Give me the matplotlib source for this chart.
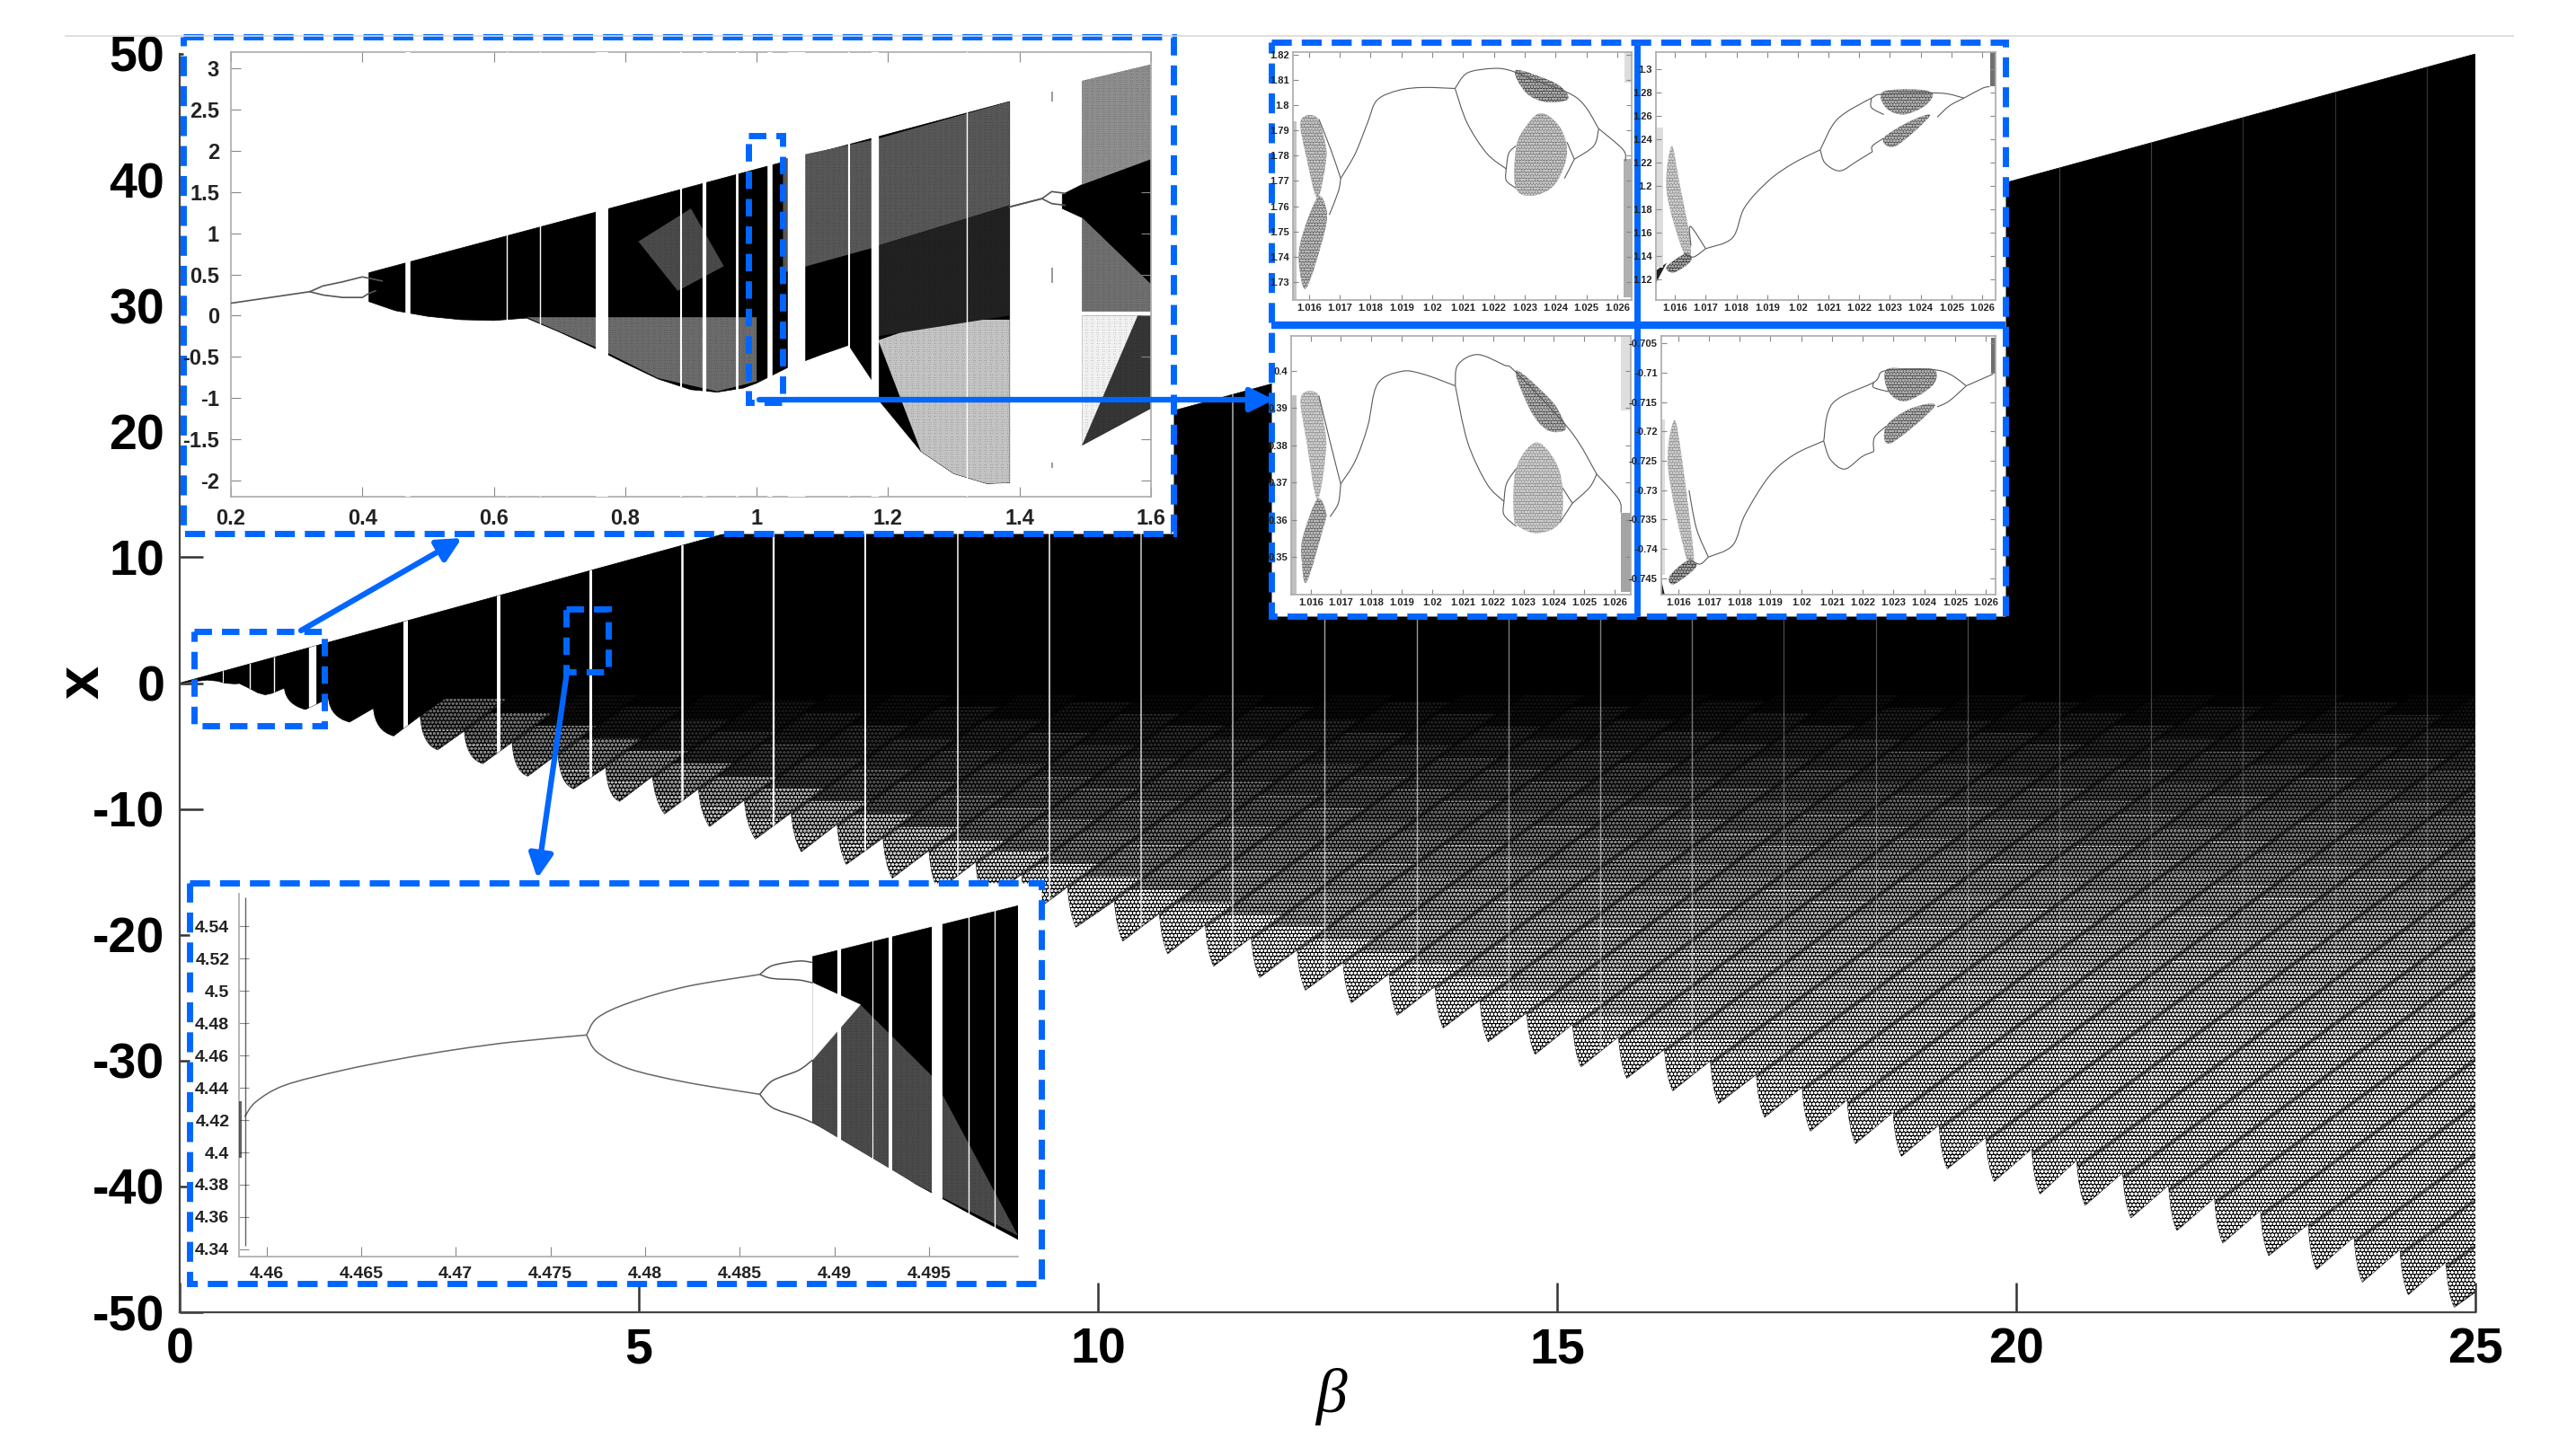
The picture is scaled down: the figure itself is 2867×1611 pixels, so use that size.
import numpy as np
import matplotlib
matplotlib.use('Agg')
import matplotlib.pyplot as plt
from matplotlib.patches import Polygon, Rectangle, PathPatch
from matplotlib.path import Path

W, H = 2867, 1611
BLUE = '#0066ff'
FONT = ['Liberation Sans Narrow', 'Liberation Sans', 'DejaVu Sans']

plt.rcParams['hatch.linewidth'] = 1.0
plt.rcParams['lines.scale_dashes'] = False
plt.rcParams['font.family'] = FONT
plt.rcParams['axes.unicode_minus'] = False

### main diagram, values
upper_beta = [0, 25]
upper_x = [0, 50]
start_beta = [0, 0.3, 0.41, 0.5, 0.6, 0.65, 0.76, 0.85, 0.93, 1.0]
start_x = [0, 0.24, 0.16, -0.01, -0.06, -0.03, -0.42, -0.77, -0.93, -0.82]
tip_beta = [1.37, 1.85, 2.33, 2.81, 3.30, 3.79, 4.29, 4.79, 5.28, 5.77, 6.27, 6.77, 7.26, 7.76, 8.26, 8.76,
            9.26, 9.76, 10.27, 10.76, 11.26, 11.76, 12.26, 12.76, 13.26, 13.76, 14.25, 14.76, 15.26, 15.76,
            16.26, 16.76, 17.26, 17.76, 18.25, 18.75, 19.25, 19.76, 20.26, 20.75, 21.25, 21.75, 22.25, 22.75,
            23.27, 23.77, 24.27, 24.77]
tip_x = [-2.1, -3.1, -4.2, -5.3, -6.4, -7.4, -8.4, -9.4, -10.4, -11.4, -12.4, -13.4, -14.4, -15.5, -16.5, -17.4,
         -18.4, -19.4, -20.5, -21.5, -22.5, -23.4, -24.4, -25.4, -26.4, -27.4, -28.5, -29.5, -30.5, -31.4,
         -32.4, -33.4, -34.5, -35.6, -36.6, -37.6, -38.6, -39.6, -40.6, -41.5, -42.5, -43.5, -44.5, -45.5,
         -46.6, -47.6, -48.6, -49.6]
notch_beta = [1.14, 1.62, 2.11, 2.62, 3.1, 3.62, 4.12, 4.64, 5.15, 5.65, 6.15, 6.66, 7.16, 7.66, 8.16, 8.67,
              9.17, 9.67, 10.18, 10.67, 11.17, 11.67, 12.17, 12.67, 13.17, 13.67, 14.16, 14.67, 15.17, 15.67,
              16.17, 16.67, 17.17, 17.67, 18.16, 18.66, 19.16, 19.67, 20.17, 20.66, 21.16, 21.66, 22.16, 22.66,
              23.18, 23.68, 24.18, 24.68]
notch_x = [-0.4, -1.2, -2.0, -2.6, -3.8, -4.7, -5.6, -6.7, -7.4, -8.4, -9.3, -10.3, -11.2, -12.3, -13.3, -14.2,
           -15.2, -16.2, -17.3, -18.3, -19.2, -20.2, -21.2, -22.2, -23.1, -24.1, -25.2, -26.2, -27.1, -28.1,
           -29.1, -30.0, -31.1, -32.1, -33.1, -34.1, -35.1, -36.1, -37.0, -37.9, -38.9, -39.9, -40.9, -41.9,
           -43.0, -44.0, -45.0, -46.0]
end_beta = 25
end_x = -48.4
band_slope = 5.3

window_beta = [0.47, 0.76, 1.03, 1.45, 2.46, 3.47, 4.47, 5.47, 6.47, 7.47, 8.47, 9.47, 10.47, 11.47, 12.47, 13.47,
               14.47, 15.47, 16.47, 17.47, 18.47, 19.47, 20.47, 21.47, 22.47, 23.47, 24.47]
window_lw = [0.8, 1.0, 1.0, 6, 3.6, 2.8, 2.2, 1.8, 1.6, 1.4, 1.2, 1.2, 1.1, 1.1, 1.0, 1.0,
             1.0, 1.0, 1.0, 0.9, 0.9, 0.9, 0.9, 0.9, 0.9, 0.9, 0.9]
window_alpha = [1, 1, 1, 1, 1, 1, 1, 1, 1, 1, 0.9, 0.9, 0.8, 0.7, 0.65, 0.6,
                0.5, 0.5, 0.45, 0.3, 0.3, 0.3, 0.25, 0.25, 0.2, 0.2, 0.2]

# how strongly the white grain shows at a given depth (style, read by eye)
grain_depth = [-50, -42, -30, -20, -14, -8, -3, -1]
grain_alpha = [1.0, 1.0, 0.92, 0.72, 0.52, 0.28, 0.1, 0.0]

xticks_main = [0, 5, 10, 15, 20, 25]
yticks_main = [-50, -40, -30, -20, -10, 0, 10, 20, 30, 40, 50]

### first inset, beta 0.2 to 1.6
a_env_top_beta = [0.41, 1.385]
a_env_top = [0.52, 2.6]
a_env_low_beta = [0.41, 0.45, 0.5, 0.55, 0.6, 0.65, 0.7, 0.76, 0.8, 0.85, 0.9, 0.94, 0.98, 1.0, 1.05, 1.1, 1.14,
                  1.175, 1.185, 1.25, 1.3, 1.35, 1.385]
a_env_low = [0.17, 0.06, -0.01, -0.05, -0.06, -0.03, -0.2, -0.42, -0.58, -0.77, -0.9, -0.93, -0.88, -0.82, -0.62,
             -0.47, -0.36, -0.78, -1.02, -1.65, -1.92, -2.04, -2.03]
a_right_beta = [1.465, 1.495, 1.6, 1.6, 1.495, 1.465]
a_right_x = [1.47, 1.59, 1.9, 0.38, 1.19, 1.30]
a_topgray_beta = [1.495, 1.6, 1.6, 1.495]
a_topgray_x = [2.85, 3.05, 1.9, 1.59]
a_midgray_beta = [1.495, 1.6, 1.6, 1.495]
a_midgray_x = [1.19, 0.38, 0.05, 0.05]
a_lowgray_beta = [1.495, 1.58, 1.495]
a_lowgray_x = [0.0, 0.0, -1.58]
a_wedge_beta = [1.495, 1.6, 1.6, 1.58]
a_wedge_x = [-1.58, -1.13, 0.0, 0.0]
a_gray1_beta = [0.65, 1.0, 1.0, 0.94, 0.85, 0.76]
a_gray1_x = [-0.02, -0.02, -0.8, -0.92, -0.76, -0.4]
a_gray2_beta = [1.185, 1.25, 1.3, 1.385, 1.385, 1.35, 1.3, 1.25]
a_gray2_x = [-0.3, -0.12, -0.05, -0.05, -2.03, -2.04, -1.92, -1.65]
a_gray3_beta = [1.185, 1.385, 1.385, 1.185]
a_gray3_x = [2.15, 2.6, 1.34, 0.85]
a_gray4_beta = [1.04, 1.18, 1.18, 1.04]
a_gray4_x = [1.9, 2.14, 0.83, 0.52]
a_gray5_beta = [0.82, 0.9, 0.95, 0.88]
a_gray5_x = [0.9, 1.3, 0.6, 0.3]
a_gray6_beta = [1.185, 1.385, 1.385, 1.185]
a_gray6_x = [0.85, 1.34, 0.0, -0.25]
a_trunk_beta = [0.2, 0.32, 0.34, 0.37, 0.4, 0.43]
a_trunk_x = [0.15, 0.29, 0.36, 0.41, 0.47, 0.42]
a_fork_beta = [0.32, 0.34, 0.37, 0.4, 0.41, 0.42]
a_fork_x = [0.29, 0.25, 0.22, 0.22, 0.27, 0.3]
a_p3_beta = [1.385, 1.434, 1.449, 1.469]
a_p3_up = [1.32, 1.42, 1.506, 1.485]
a_p3_low = [1.32, 1.42, 1.36, 1.34]
a_gaps = [0.47, 0.62, 0.67, 0.765, 0.885, 0.92, 0.97, 1.02, 1.06, 1.14, 1.18, 1.32]
a_gap_w = [4, 1, 1, 10, 1.5, 3, 2, 4, 14, 1.5, 6, 1]
a_marks = [1.45, 1.45, 1.45]
a_marks_low = [2.6, 0.4, -1.85]
a_marks_high = [2.72, 0.58, -1.78]
a_xticks = [0.2, 0.4, 0.6, 0.8, 1, 1.2, 1.4, 1.6]
a_xlabels = ['0.2', '0.4', '0.6', '0.8', '1', '1.2', '1.4', '1.6']
a_yticks = [-2, -1.5, -1, -0.5, 0, 0.5, 1, 1.5, 2, 2.5, 3]
a_ylabels = ['-2', '-1.5', '-1', '-0.5', '0', '0.5', '1', '1.5', '2', '2.5', '3']

### bottom inset, beta 4.46 to 4.5
e_trunk_beta = [4.45885, 4.45945, 4.46097, 4.464, 4.46703, 4.47006, 4.47309, 4.47691]
e_trunk_x = [4.4221, 4.4314, 4.4416, 4.4508, 4.4579, 4.4638, 4.4685, 4.4727]
e_fork_beta = [4.47691, 4.47748, 4.47915, 4.48218, 4.48606]
e_fork_up = [4.4727, 4.4833, 4.4926, 4.5027, 4.5102]
e_fork_low = [4.4727, 4.462, 4.4518, 4.4434, 4.436]
e_sub_beta = [4.48606, 4.48673, 4.4881, 4.48885]
e_sub_a = [4.5102, 4.5157, 4.5185, 4.5176]
e_sub_b = [4.5102, 4.5077, 4.5068, 4.505]
e_sub_c = [4.436, 4.4444, 4.4508, 4.4573]
e_sub_d = [4.436, 4.4277, 4.4221, 4.4184]
e_black_beta = [4.48885, 4.4997, 4.4997, 4.49733, 4.4943, 4.49127, 4.48885]
e_black_x = [4.5213, 4.5528, 4.3461, 4.3609, 4.3804, 4.4036, 4.4184]
e_wedge_beta = [4.48885, 4.48885, 4.49137]
e_wedge_x = [4.505, 4.4573, 4.4915]
e_gray_beta = [4.49137, 4.49521, 4.4997, 4.4943, 4.48885, 4.48885]
e_gray_x = [4.4915, 4.4467, 4.3485, 4.3804, 4.4184, 4.4573]
e_gaps = [4.49027, 4.49294, 4.49545, 4.49203, 4.49709, 4.49848]
e_gap_w = [3, 2.8, 8.5, 0.8, 1, 1]
e_strip_beta = [4.4586, 4.4589]
e_strip_low = [4.3965, 4.342]
e_strip_high = [4.4315, 4.558]
e_xticks = [4.46, 4.465, 4.47, 4.475, 4.48, 4.485, 4.49, 4.495]
e_xlabels = ['4.46', '4.465', '4.47', '4.475', '4.48', '4.485', '4.49', '4.495']
e_yticks = [4.34, 4.36, 4.38, 4.4, 4.42, 4.44, 4.46, 4.48, 4.5, 4.52, 4.54]
e_ylabels = ['4.34', '4.36', '4.38', '4.4', '4.42', '4.44', '4.46', '4.48', '4.5', '4.52', '4.54']

### four small panels
p_xticks = [1.016, 1.017, 1.018, 1.019, 1.02, 1.021, 1.022, 1.023, 1.024, 1.025, 1.026]
p_xlabels = ['1.016', '1.017', '1.018', '1.019', '1.02', '1.021', '1.022', '1.023', '1.024', '1.025', '1.026']

pa_lines = [
    ([1.01703, 1.0175, 1.0179, 1.01821, 1.01892, 1.01971, 1.02074], [1.771, 1.7808, 1.793, 1.802, 1.8059, 1.807, 1.8066]),
    ([1.02074, 1.02113, 1.02192, 1.02248, 1.02319, 1.02469, 1.0254], [1.8066, 1.8127, 1.8145, 1.8139, 1.8105, 1.8029, 1.7907]),
    ([1.0254, 1.02524, 1.02461], [1.7907, 1.7839, 1.7786]),
    ([1.0254, 1.02619, 1.02627], [1.7907, 1.7824, 1.7778]),
    ([1.02074, 1.02113, 1.02177, 1.0224], [1.8066, 1.793, 1.7809, 1.7748]),
    ([1.01703, 1.01671, 1.01632], [1.771, 1.7824, 1.7945]),
    ([1.01703, 1.01695, 1.01666], [1.771, 1.7657, 1.7566]),
    ([1.0224, 1.0224, 1.02271], [1.7748, 1.7702, 1.7672]),
    ([1.0224, 1.02248, 1.02271], [1.7748, 1.7809, 1.7839]),
    ([1.02461, 1.02429], [1.7786, 1.771]),
    ([1.02461, 1.02437], [1.7786, 1.7854]),
]
pa_blobs = [
    ([1.02271, 1.02382, 1.02429, 1.02437, 1.02366, 1.02303], [1.8138, 1.8097, 1.8059, 1.8021, 1.8013, 1.8051], '#3c3c3c'),
    ([1.0235, 1.02295, 1.02271, 1.02271, 1.02327, 1.02398, 1.02437, 1.02413], [1.7968, 1.79, 1.7824, 1.7672, 1.7642, 1.7687, 1.7808, 1.7915], '#7a7a7a'),
    ([1.01573, 1.01624, 1.01652, 1.01655, 1.01627, 1.01592], [1.7937, 1.7953, 1.7854, 1.7778, 1.7634, 1.7793], '#777777'),
    ([1.01627, 1.01655, 1.01652, 1.01592, 1.01568, 1.01576], [1.7634, 1.7596, 1.7505, 1.7277, 1.7368, 1.7475], '#606060'),
]
pa_strips = [
    ([1.02622, 1.0265, 1.0265, 1.02622], [1.7786, 1.7786, 1.724, 1.724], '#b0b0b0'),
    ([1.02625, 1.0265, 1.0265, 1.02625], [1.821, 1.821, 1.809, 1.809], '#dddddd'),
    ([1.01548, 1.0156, 1.0156, 1.01548], [1.7937, 1.7937, 1.7232, 1.7232], '#c4c4c4'),
]

pb_lines = [
    ([1.017, 1.01787, 1.01827, 1.01906, 1.01986, 1.02073], [1.146, 1.1552, 1.1815, 1.2046, 1.2194, 1.2309]),
    ([1.02073, 1.02129, 1.0224, 1.0228, 1.02462, 1.02541], [1.2309, 1.2572, 1.2753, 1.2786, 1.2796, 1.2753]),
    ([1.02541, 1.02494, 1.02454], [1.2753, 1.2687, 1.2589]),
    ([1.02541, 1.026, 1.02625], [1.2753, 1.2836, 1.2852]),
    ([1.02073, 1.02089, 1.02137, 1.02192, 1.02243], [1.2309, 1.2194, 1.2128, 1.221, 1.2293]),
    ([1.017, 1.0165, 1.01652], [1.146, 1.1651, 1.1486]),
    ([1.017, 1.0166, 1.01629], [1.146, 1.1388, 1.1421]),
    ([1.0224, 1.0224, 1.0228], [1.2753, 1.2671, 1.2612]),
    ([1.02243, 1.02243, 1.02279], [1.2293, 1.2342, 1.2408]),
]
pb_blobs = [
    ([1.02275, 1.02367, 1.02438, 1.02414, 1.02343, 1.02287], [1.2803, 1.2829, 1.2796, 1.2687, 1.2612, 1.2671], '#474747'),
    ([1.02279, 1.02367, 1.0243, 1.02319], [1.2408, 1.2556, 1.2599, 1.2342], '#4a4a4a'),
    ([1.01589, 1.01613, 1.01652, 1.01629, 1.01573], [1.2342, 1.2046, 1.1486, 1.1421, 1.1947], '#8a8a8a'),
    ([1.01573, 1.01637, 1.01652, 1.01597], [1.1305, 1.1421, 1.1355, 1.1256], '#2c2c2c'),
]
pb_strips = [
    ([1.01538, 1.01573, 1.01538], [1.1272, 1.1338, 1.1164], '#222222'),
    ([1.02625, 1.02644, 1.02644, 1.02625], [1.3148, 1.3148, 1.2852, 1.2852], '#707070'),
    ([1.0154, 1.0156, 1.0156, 1.0154], [1.25, 1.25, 1.13, 1.13], '#dddddd'),
]

pc_lines = [
    ([1.01699, 1.01747, 1.01788, 1.0182, 1.019, 1.01972, 1.02076], [0.3696, 0.3758, 0.3851, 0.3964, 0.3998, 0.399, 0.3959]),
    ([1.02076, 1.02084, 1.02148, 1.02236, 1.02276, 1.02453, 1.02541], [0.3959, 0.4015, 0.4043, 0.4015, 0.3995, 0.384, 0.3722]),
    ([1.02541, 1.02517, 1.02461], [0.3722, 0.3686, 0.3644]),
    ([1.02541, 1.02613, 1.02621], [0.3722, 0.3655, 0.3619]),
    ([1.02076, 1.02116, 1.0218, 1.02236], [0.3959, 0.3809, 0.3696, 0.3649]),
    ([1.01699, 1.01667, 1.01627], [0.3696, 0.3799, 0.3933]),
    ([1.01699, 1.01691, 1.01664], [0.3696, 0.3644, 0.3608]),
    ([1.02236, 1.02236, 1.02276], [0.3649, 0.3613, 0.3582]),
    ([1.02236, 1.02244, 1.02276], [0.3649, 0.3696, 0.3737]),
    ([1.02461, 1.02428], [0.3644, 0.3686]),
    ([1.02461, 1.0242], [0.3644, 0.3593]),
]
pc_blobs = [
    ([1.02276, 1.02388, 1.02428, 1.02436, 1.0238, 1.02324], [0.4, 0.3923, 0.3871, 0.384, 0.384, 0.3892], '#4a4a4a'),
    ([1.0234, 1.02276, 1.02268, 1.02284, 1.02348, 1.0242, 1.02428, 1.02404], [0.3807, 0.3737, 0.3613, 0.3582, 0.3564, 0.3593, 0.3686, 0.3758], '#8a8a8a'),
    ([1.01568, 1.01622, 1.01643, 1.01651, 1.01622, 1.01587], [0.3928, 0.3938, 0.3861, 0.3789, 0.3655, 0.3809], '#8c8c8c'),
    ([1.01622, 1.01651, 1.01643, 1.01587, 1.01571, 1.01574], [0.3655, 0.3619, 0.3582, 0.3433, 0.349, 0.3552], '#5c5c5c'),
]
pc_strips = [
    ([1.02621, 1.02653, 1.02653, 1.02621], [0.3619, 0.3619, 0.3407, 0.3407], '#a4a4a4'),
    ([1.02621, 1.02653, 1.02653, 1.02621], [0.4093, 0.4093, 0.3892, 0.3892], '#dedede'),
    ([1.01536, 1.01555, 1.01555, 1.01536], [0.3933, 0.3933, 0.3399, 0.3399], '#c0c0c0'),
]

pd_lines = [
    ([1.01698, 1.01777, 1.01817, 1.01896, 1.01975, 1.02073], [-0.7414, -0.7394, -0.7342, -0.7276, -0.724, -0.7216]),
    ([1.02073, 1.02102, 1.02236, 1.02276, 1.0245, 1.02537], [-0.7216, -0.7152, -0.7116, -0.7096, -0.7096, -0.7122]),
    ([1.02537, 1.02481, 1.02442], [-0.7122, -0.7148, -0.7158]),
    ([1.02537, 1.02624], [-0.7122, -0.7102]),
    ([1.02073, 1.02094, 1.02141, 1.02197, 1.02236], [-0.7216, -0.7247, -0.7264, -0.7243, -0.7234]),
    ([1.01698, 1.01659, 1.01635], [-0.7414, -0.7365, -0.7300]),
    ([1.01698, 1.01670, 1.01635], [-0.7414, -0.7426, -0.7417]),
    ([1.02236, 1.02236, 1.02284], [-0.7116, -0.7125, -0.7132]),
    ([1.02236, 1.02238, 1.02276], [-0.7234, -0.7210, -0.7191]),
]
pd_blobs = [
    ([1.02276, 1.02355, 1.02434, 1.02426, 1.02339, 1.02284], [-0.7095, -0.7093, -0.7095, -0.7122, -0.7148, -0.7132], '#474747'),
    ([1.02276, 1.02355, 1.02434, 1.02291], [-0.7191, -0.7161, -0.7157, -0.722], '#4a4a4a'),
    ([1.01587, 1.01611, 1.01651, 1.01627, 1.01567], [-0.7181, -0.7243, -0.7417, -0.7417, -0.7263], '#8a8a8a'),
    ([1.01572, 1.01627, 1.01659, 1.01587], [-0.7447, -0.7421, -0.743, -0.746], '#2c2c2c'),
]
pd_strips = [
    ([1.01545, 1.01556, 1.01545], [-0.7453, -0.7478, -0.7478], '#222222'),
    ([1.02616, 1.02632, 1.02632, 1.02616], [-0.704, -0.704, -0.7102, -0.7102], '#707070'),
    ([1.01547, 1.01557, 1.01557, 1.01547], [-0.718, -0.718, -0.7445, -0.7445], '#dddddd'),
]

pa_yticks = [1.73, 1.74, 1.75, 1.76, 1.77, 1.78, 1.79, 1.8, 1.81, 1.82]
pa_ylabels = ['1.73', '1.74', '1.75', '1.76', '1.77', '1.78', '1.79', '1.8', '1.81', '1.82']
pb_yticks = [1.12, 1.14, 1.16, 1.18, 1.2, 1.22, 1.24, 1.26, 1.28, 1.3]
pb_ylabels = ['1.12', '1.14', '1.16', '1.18', '1.2', '1.22', '1.24', '1.26', '1.28', '1.3']
pc_yticks = [0.35, 0.36, 0.37, 0.38, 0.39, 0.4]
pc_ylabels = ['0.35', '0.36', '0.37', '0.38', '0.39', '0.4']
pd_yticks = [-0.745, -0.74, -0.735, -0.73, -0.725, -0.72, -0.715, -0.71, -0.705]
pd_ylabels = ['-0.745', '-0.74', '-0.735', '-0.73', '-0.725', '-0.72', '-0.715', '-0.71', '-0.705']


def pix_axes(left, top, right, bottom, z):
    return fig.add_axes([left / W, 1 - bottom / H, (right - left) / W, (bottom - top) / H], zorder=z)


def shade(ax, xs, ys, white):
    # black patch with a fine white grain, white = share of white wanted
    ax.add_patch(Polygon(list(zip(xs, ys)), facecolor='black', edgecolor=(1, 1, 1, min(white / 0.76, 1)),
                         linewidth=0, hatch='ooooooo', zorder=1.5))


def catmull(xs, ys, closed=False):
    # bezier through the read points, so the curves do not look like polygons
    p = np.column_stack([xs, ys]).astype(float)
    n = len(p)
    verts = [p[0]]
    codes = [Path.MOVETO]
    last = n if closed else n - 1
    for i in range(last):
        if closed:
            p0, p1, p2, p3 = p[(i - 1) % n], p[i], p[(i + 1) % n], p[(i + 2) % n]
        else:
            p0, p1, p2, p3 = p[max(i - 1, 0)], p[i], p[i + 1], p[min(i + 2, n - 1)]
        verts += [p1 + (p2 - p0) / 6, p2 - (p3 - p1) / 6, p2]
        codes += [Path.CURVE4, Path.CURVE4, Path.CURVE4]
    return Path(verts, codes)


def curve(ax, xs, ys, color='#666666', lw=1.0, z=3):
    ax.add_patch(PathPatch(catmull(xs, ys), facecolor='none', edgecolor=color, lw=lw, zorder=z))


def blob(ax, xs, ys, color):
    ax.add_patch(PathPatch(catmull(xs, ys, closed=True), facecolor=color, edgecolor=(1, 1, 1, 0.55), linewidth=0,
                           hatch='ooooo', zorder=1.5))


def inset_style(ax, xlim, ylim, xticks, xlabels, yticks, ylabels, size, ticklen):
    ax.set_xlim(xlim)
    ax.set_ylim(ylim)
    ax.set_xticks(xticks)
    ax.set_xticklabels(xlabels)
    ax.set_yticks(yticks)
    ax.set_yticklabels(ylabels)
    ax.tick_params(direction='in', top=True, right=True, length=ticklen, width=0.8, color='#888888',
                   labelsize=size, labelcolor='#222222', pad=size * 0.55)
    for t in ax.get_xticklabels() + ax.get_yticklabels():
        t.set_fontweight('bold')
    for s in ax.spines.values():
        s.set_color('#aaaaaa')
        s.set_linewidth(1.2)


fig = plt.figure(figsize=(W / 100, H / 100), dpi=100, facecolor='white')

""" Main diagram """
ax = pix_axes(200, 60, 2755, 1461, 1)
ax.set_xlim(0, 25)
ax.set_ylim(-50, 50)

verts = [(upper_beta[0], upper_x[0]), (upper_beta[1], upper_x[1]), (end_beta, end_x), (tip_beta[-1], tip_x[-1])]
codes = [Path.MOVETO, Path.LINETO, Path.LINETO, Path.LINETO]
for i in range(len(tip_beta) - 1, -1, -1):
    # walking leftwards: tip, curved side up to the notch, straight edge down to the tip before
    lift = 0.4 if i < 8 else 1.1
    verts += [(notch_beta[i] + 0.02, tip_x[i] + lift), (notch_beta[i], notch_x[i])]
    codes += [Path.CURVE3, Path.CURVE3]
    if i > 0:
        verts.append((tip_beta[i - 1], tip_x[i - 1]))
        codes.append(Path.LINETO)
for b, v in zip(start_beta[::-1], start_x[::-1]):
    verts.append((b, v))
    codes.append(Path.LINETO)
verts.append((0, 0))
codes.append(Path.CLOSEPOLY)
body = PathPatch(Path(verts, codes), facecolor='black', edgecolor='black', linewidth=0.5, zorder=1)
ax.add_patch(body)

# every tooth drags a speckled band up to the right, lighter the deeper it is
step = 2.5
for i in range(1, len(tip_beta)):
    tb, tx = tip_beta[i], tip_x[i]
    pb, px = tip_beta[i - 1], tip_x[i - 1]
    if tx > -5:
        continue
    lo = tx - 1
    while lo < -1:
        hi = min(lo + step, -1)
        mid = (lo + hi) / 2
        al = float(np.interp(mid, grain_depth, grain_alpha))
        # a bit paler right above the tip
        if mid < tx + 4:
            al = min(al + 0.3, 1)
        poly = [(tb + (lo - tx) / band_slope, lo), (tb + (hi - tx) / band_slope, hi),
                (pb + (hi - px) / band_slope, hi), (pb + (lo - px) / band_slope, lo)]
        r = Polygon(poly, facecolor='none', edgecolor=(1, 1, 1, al), linewidth=0, hatch='oooo', zorder=2)
        ax.add_patch(r)
        r.set_clip_path(body)
        lo = hi
    stop = -1.0
    bb = tb + (stop - tx) / band_slope
    l1, = ax.plot([tb, bb], [tx, stop], color='black', lw=3.0, alpha=0.4, zorder=3, solid_capstyle='butt')
    l1.set_clip_path(body)

for b, w, al in zip(window_beta, window_lw, window_alpha):
    ln = ax.axvline(b, color='white', lw=w, alpha=al, zorder=4)
    ln.set_clip_path(body)

ax.set_xticks(xticks_main)
ax.set_yticks(yticks_main)
ax.tick_params(axis='x', direction='in', length=24, width=1.8, color='#333333', labelsize=40, pad=12)
ax.tick_params(axis='y', direction='in', length=19, width=1.8, color='#333333', labelsize=40, pad=12)
for t in ax.get_xticklabels() + ax.get_yticklabels():
    t.set_fontweight('bold')
ax.spines['top'].set_visible(False)
ax.spines['right'].set_visible(False)
ax.spines['left'].set_linewidth(1.6)
ax.spines['bottom'].set_linewidth(1.6)
ax.spines['left'].set_color('#444444')
ax.spines['bottom'].set_color('#444444')
fig.text(93 / W, 1 - 760 / H, 'x', fontsize=48, fontweight='bold', rotation=90, ha='center', va='center')
fig.text(1481 / W, 1 - 1555 / H, 'β', fontsize=50, family=['Liberation Serif', 'DejaVu Serif'], style='italic', ha='center', va='center')

""" White boxes under the insets """
under = fig.add_axes([0, 0, 1, 1], zorder=2)
under.set_xlim(0, W)
under.set_ylim(H, 0)
under.axis('off')
under.patch.set_alpha(0)
under.plot([73, 2797], [40, 40], color='#d8d8d8', lw=1.2)
dash = (0, (16, 8))
for (l, t, r, b) in [(204, 41, 1306, 594), (1415, 47, 2232, 686), (211, 983, 1159, 1429)]:
    under.add_patch(Rectangle((l, t), r - l, b - t, facecolor='white', edgecolor=BLUE, lw=5, linestyle=dash))
under.plot([1415, 2232], [362, 362], color=BLUE, lw=6, solid_capstyle='butt')
under.plot([1822, 1822], [47, 686], color=BLUE, lw=5, solid_capstyle='butt')

""" First inset """
ia = pix_axes(257, 58, 1281, 553, 3)
ia.add_patch(Polygon(list(zip(a_env_top_beta + a_env_low_beta[::-1], a_env_top + a_env_low[::-1])), facecolor='black', edgecolor='black', lw=0.5, zorder=1))
ia.add_patch(Polygon(list(zip(a_right_beta, a_right_x)), facecolor='black', edgecolor='black', lw=0.5, zorder=1))
shade(ia, a_topgray_beta, a_topgray_x, 0.42)
shade(ia, a_midgray_beta, a_midgray_x, 0.33)
shade(ia, a_lowgray_beta, a_lowgray_x, 0.72)
shade(ia, a_wedge_beta, a_wedge_x, 0.16)
shade(ia, a_gray1_beta, a_gray1_x, 0.32)
shade(ia, a_gray2_beta, a_gray2_x, 0.58)
shade(ia, a_gray3_beta, a_gray3_x, 0.26)
shade(ia, a_gray4_beta, a_gray4_x, 0.26)
shade(ia, a_gray5_beta, a_gray5_x, 0.22)
shade(ia, a_gray6_beta, a_gray6_x, 0.1)
ia.plot(a_trunk_beta, a_trunk_x, color='#555555', lw=1.2, zorder=3)
ia.plot(a_fork_beta, a_fork_x, color='#555555', lw=1.2, zorder=3)
ia.plot(a_p3_beta, a_p3_up, color='#555555', lw=1.2, zorder=3)
ia.plot(a_p3_beta, a_p3_low, color='#555555', lw=1.2, zorder=3)
for b, w in zip(a_gaps, a_gap_w):
    ia.axvline(b, color='white', lw=w, zorder=4)
ia.vlines(a_marks, a_marks_low, a_marks_high, color='#888888', lw=1.2, zorder=5)
inset_style(ia, (0.2, 1.6), (-2.2, 3.2), a_xticks, a_xlabels, a_yticks, a_ylabels, 17, 8)

""" Bottom inset """
ie = pix_axes(266, 995, 1133, 1399, 3)
ie.add_patch(Polygon(list(zip(e_black_beta, e_black_x)), facecolor='black', edgecolor='black', lw=0.4, zorder=1))
shade(ie, e_gray_beta, e_gray_x, 0.22)
ie.add_patch(Polygon(list(zip(e_wedge_beta, e_wedge_x)), facecolor='white', edgecolor='white', lw=0.4, zorder=2))
curve(ie, e_trunk_beta, e_trunk_x, '#666666', 1.1)
curve(ie, e_fork_beta, e_fork_up, '#666666', 1.1)
curve(ie, e_fork_beta, e_fork_low, '#666666', 1.1)
for ys in (e_sub_a, e_sub_b, e_sub_c, e_sub_d):
    curve(ie, e_sub_beta, ys, '#555555', 1.1)
for b, w in zip(e_gaps, e_gap_w):
    ie.axvline(b, color='white', lw=w, zorder=4, ymin=0.02, ymax=0.98)
ie.vlines(e_strip_beta, e_strip_low, e_strip_high, color='#222222', lw=[3, 1], alpha=0.7, zorder=5)
inset_style(ie, (4.45855, 4.4997), (4.3355, 4.5602), e_xticks, e_xlabels, e_yticks, e_ylabels, 14, 8)
ie.spines['top'].set_visible(False)
ie.spines['right'].set_visible(False)
ie.tick_params(top=False, right=False)

""" Four panels """
panels = [
    ((1439, 58, 1816, 334), (1.01548, 1.02647), (1.7229, 1.821), pa_lines, pa_blobs, pa_strips, pa_yticks, pa_ylabels),
    ((1843, 58, 2221, 334), (1.01538, 1.02644), (1.1019, 1.3148), pb_lines, pb_blobs, pb_strips, pb_yticks, pb_ylabels),
    ((1437, 374, 1815, 662), (1.01536, 1.02653), (0.3399, 0.4093), pc_lines, pc_blobs, pc_strips, pc_yticks, pc_ylabels),
    ((1849, 374, 2221, 662), (1.01545, 1.02632), (-0.7478, -0.7037), pd_lines, pd_blobs, pd_strips, pd_yticks, pd_ylabels),
]
for box, xl, yl, lines, blobs, strips, yt, yts in panels:
    p = pix_axes(box[0], box[1], box[2], box[3], 3)
    for xs, ys, c in blobs:
        blob(p, xs, ys, c)
    for xs, ys, c in strips:
        p.add_patch(Polygon(list(zip(xs, ys)), facecolor=c, edgecolor='none', zorder=1.5))
    for xs, ys in lines:
        curve(p, xs, ys, '#5a5a5a', 0.8)
    inset_style(p, xl, yl, p_xticks, p_xlabels, yt, yts, 8, 4)
    p.tick_params(axis='both', pad=3)

""" Small boxes and arrows on top """
top = fig.add_axes([0, 0, 1, 1], zorder=4)
top.set_xlim(0, W)
top.set_ylim(H, 0)
top.axis('off')
top.patch.set_alpha(0)
for (l, t, r, b) in [(216, 703, 361, 808), (630, 678, 677, 748), (833, 151, 871, 448)]:
    top.add_patch(Rectangle((l, t), r - l, b - t, facecolor='none', edgecolor=BLUE, lw=5, linestyle=(0, (14, 8))))
top.annotate('', xy=(514, 599), xytext=(335, 702),
             arrowprops=dict(arrowstyle='-|>', color=BLUE, lw=4.5, mutation_scale=40, shrinkA=0, shrinkB=0))
top.annotate('', xy=(598, 978), xytext=(631, 748),
             arrowprops=dict(arrowstyle='-|>', color=BLUE, lw=4.5, mutation_scale=40, shrinkA=0, shrinkB=0))
top.annotate('', xy=(1418, 445), xytext=(845, 445),
             arrowprops=dict(arrowstyle='-|>', color=BLUE, lw=4.5, mutation_scale=40, shrinkA=0, shrinkB=0))

fig.savefig('out.png', dpi=100)
